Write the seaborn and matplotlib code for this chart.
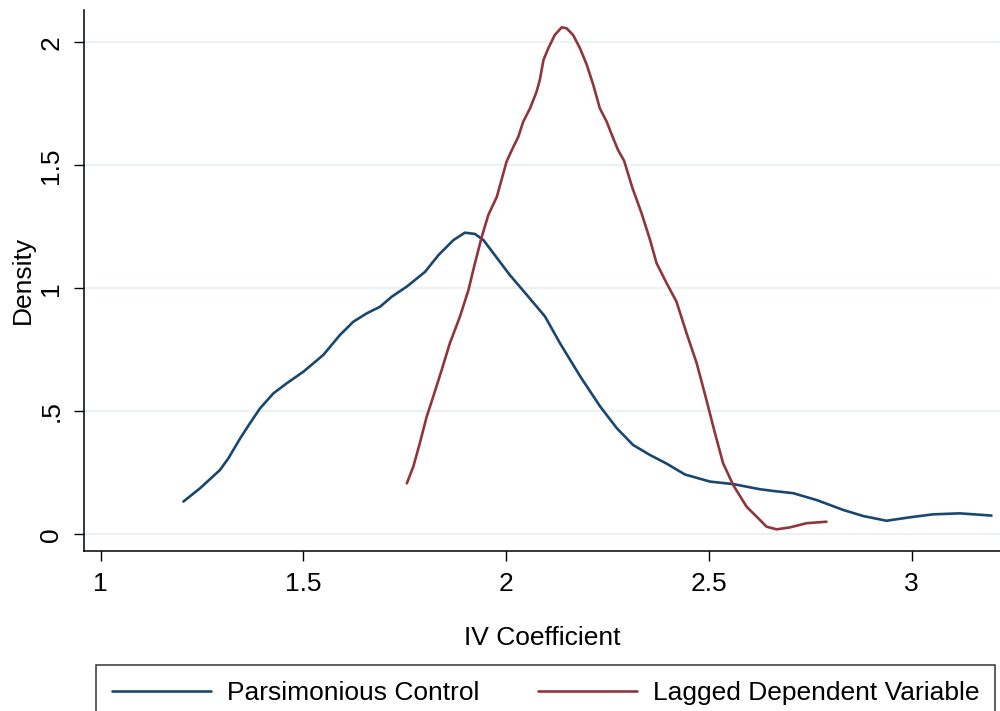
import numpy as np
import pandas as pd
import matplotlib
matplotlib.use("Agg")
import matplotlib.pyplot as plt
import seaborn as sns
from matplotlib.lines import Line2D

# Parsimonious Control density curve
pars_x = [1.204, 1.245, 1.294, 1.315, 1.344, 1.368, 1.393, 1.426, 1.459, 1.500,
          1.549, 1.590, 1.623, 1.656, 1.689, 1.718, 1.755, 1.800, 1.833, 1.870,
          1.898, 1.923, 1.944, 1.972, 2.009, 2.051, 2.096, 2.133, 2.183, 2.232,
          2.273, 2.313, 2.355, 2.396, 2.441, 2.503, 2.560, 2.626, 2.659, 2.708,
          2.766, 2.831, 2.881, 2.938, 2.996, 3.053, 3.119, 3.197]
pars_y = [0.133, 0.187, 0.261, 0.309, 0.390, 0.451, 0.512, 0.573, 0.614, 0.661,
          0.729, 0.810, 0.864, 0.898, 0.925, 0.966, 1.007, 1.067, 1.135, 1.196,
          1.226, 1.221, 1.196, 1.135, 1.054, 0.973, 0.885, 0.776, 0.641, 0.519,
          0.431, 0.363, 0.322, 0.287, 0.243, 0.214, 0.204, 0.183, 0.176, 0.167,
          0.139, 0.099, 0.074, 0.055, 0.069, 0.081, 0.085, 0.076]

# Lagged Dependent Variable density curve
lag_x = [1.755, 1.771, 1.787, 1.804, 1.820, 1.841, 1.861, 1.886, 1.907, 1.923,
         1.940, 1.956, 1.977, 1.993, 2.001, 2.014, 2.030, 2.042, 2.059, 2.075,
         2.083, 2.092, 2.104, 2.120, 2.137, 2.149, 2.165, 2.182, 2.199, 2.215,
         2.231, 2.248, 2.264, 2.276, 2.291, 2.311, 2.334, 2.355, 2.371, 2.396,
         2.420, 2.445, 2.470, 2.494, 2.515, 2.535, 2.560, 2.593, 2.626, 2.642,
         2.667, 2.700, 2.741, 2.790]
lag_y = [0.207, 0.275, 0.370, 0.478, 0.559, 0.668, 0.776, 0.885, 0.993, 1.102,
         1.210, 1.298, 1.372, 1.467, 1.515, 1.562, 1.616, 1.677, 1.732, 1.799,
         1.847, 1.928, 1.976, 2.030, 2.061, 2.057, 2.030, 1.976, 1.908, 1.826,
         1.732, 1.677, 1.610, 1.562, 1.518, 1.410, 1.305, 1.196, 1.102, 1.020,
         0.946, 0.817, 0.695, 0.546, 0.411, 0.289, 0.200, 0.112, 0.058, 0.031,
         0.020, 0.028, 0.045, 0.051]

series_names = ["Parsimonious Control", "Lagged Dependent Variable"]
series_colors = ["#1a476f", "#90353b"]
x_ticks = [1, 1.5, 2, 2.5, 3]
x_tick_labels = ["1", "1.5", "2", "2.5", "3"]
y_ticks = [0, 0.5, 1, 1.5, 2]
y_tick_labels = ["0", ".5", "1", "1.5", "2"]

df = pd.concat([
    pd.DataFrame({"x": pars_x, "y": pars_y, "series": series_names[0]}),
    pd.DataFrame({"x": lag_x, "y": lag_y, "series": series_names[1]}),
], ignore_index=True)

sns.set_style("white")
plt.rcParams["font.family"] = ["Liberation Sans", "DejaVu Sans"]
plt.rcParams["text.color"] = "black"
plt.rcParams["axes.labelcolor"] = "black"
plt.rcParams["xtick.color"] = "black"
plt.rcParams["ytick.color"] = "black"
FS = 19

fig = plt.figure(figsize=(10, 7.11), dpi=100)
ax = fig.add_axes([0.084, 0.2255, 0.916, 0.7604])

for yv in y_ticks:
    ax.axhline(yv, color="#eaf2f3", lw=1.6, zorder=0)

sns.lineplot(data=df, x="x", y="y", hue="series", hue_order=series_names,
             palette=series_colors, sort=False, estimator=None,
             linewidth=1.9, ax=ax, legend=False)
for ln in ax.get_lines():
    ln.set_solid_joinstyle("round")
    ln.set_solid_capstyle("round")

ax.set_xlim(0.9588, 3.218)
ax.set_ylim(-0.0667, 2.1313)
ax.set_xticks(x_ticks)
ax.set_xticklabels(x_tick_labels, fontsize=FS, color="black")
ax.set_yticks(y_ticks)
ax.set_yticklabels(y_tick_labels, fontsize=FS, rotation=90, va="center", color="black")
ax.tick_params(axis="both", direction="out", length=7, width=1, color="black",
               pad=8, bottom=True, left=True)
ax.set_xlabel("IV Coefficient", fontsize=FS, labelpad=22, color="black")
ax.set_ylabel("Density", fontsize=FS, labelpad=3, color="black")
for s in ["top", "right"]:
    ax.spines[s].set_visible(False)
for s in ["left", "bottom"]:
    ax.spines[s].set_color("black")
    ax.spines[s].set_linewidth(1.1)

handles = [Line2D([], [], color=c, lw=1.9) for c in series_colors]
leg = fig.legend(handles, series_names, loc="upper left", mode="expand",
                 bbox_to_anchor=(0.096, 1 - 665 / 711, 0.899, 0.0), ncol=2,
                 fontsize=FS, frameon=True, fancybox=False, edgecolor="black",
                 handlelength=3.75, handletextpad=0.6, columnspacing=1.8,
                 borderpad=0.6, borderaxespad=0)
leg.get_frame().set_linewidth(1.1)
for t in leg.get_texts():
    t.set_color("black")

fig.savefig("out.png", dpi=100, facecolor="white")
